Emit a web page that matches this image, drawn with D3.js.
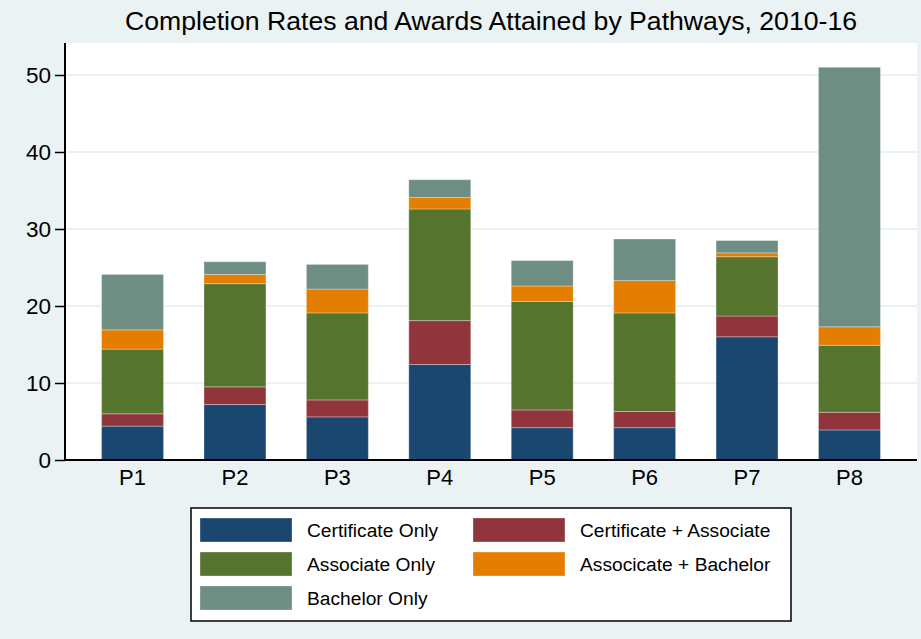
<!DOCTYPE html>
<html><head><meta charset="utf-8">
<script src="https://cdn.jsdelivr.net/npm/d3@7"></script>
<style>html,body{margin:0;padding:0;background:#EAF2F3;} svg{display:block;font-family:"Liberation Sans",Arial,sans-serif;}</style>
</head><body>
<svg id="chart" width="921" height="639"></svg>
<script>
const categories = ["P1","P2","P3","P4","P5","P6","P7","P8"];
const seriesNames = ["Certificate Only","Certificate + Associate","Associate Only","Associcate + Bachelor","Bachelor Only"];
const certOnly   = [4.4, 7.2, 5.6, 12.4, 4.2, 4.2, 16.0, 3.9];
const certAssoc  = [1.6, 2.3, 2.2, 5.7, 2.3, 2.1, 2.7, 2.3];
const assocOnly  = [8.4, 13.4, 11.3, 14.5, 14.1, 12.8, 7.7, 8.7];
const assocBach  = [2.5, 1.2, 3.1, 1.5, 2.0, 4.2, 0.5, 2.4];
const bachOnly   = [7.2, 1.65, 3.2, 2.3, 3.3, 5.4, 1.6, 33.7];
const yTicks = [0, 10, 20, 30, 40, 50];
const colors = ["#1a476f","#90353b","#55752f","#e37e00","#6e8e84"];
const title = "Completion Rates and Awards Attained by Pathways, 2010-16";

const seriesValues = [certOnly, certAssoc, assocOnly, assocBach, bachOnly];
const rows = categories.map((c, i) => {
  const r = {cat: c};
  seriesNames.forEach((s, j) => r[s] = seriesValues[j][i]);
  return r;
});

const svg = d3.select("#chart");
const pLeft = 65, pRight = 917, pTop = 43, pBottom = 460;

svg.append("rect").attr("width", 921).attr("height", 639).attr("fill", "#EAF2F3");
svg.append("rect").attr("x", pLeft).attr("y", pTop).attr("width", pRight - pLeft).attr("height", pBottom - pTop).attr("fill", "#ffffff");

const x = d3.scaleBand().domain(categories).range([pLeft, pRight]).paddingInner(0.395).paddingOuter(0.357);
const y = d3.scaleLinear().domain([0, 50]).range([pBottom, 75]);

// gridlines
svg.append("g").selectAll("line").data(yTicks.filter(t => t > 0)).join("line")
  .attr("x1", pLeft).attr("x2", pRight)
  .attr("y1", d => y(d)).attr("y2", d => y(d))
  .attr("stroke", "#EAF2F3").attr("stroke-width", 2);

const stack = d3.stack().keys(seriesNames)(rows);
svg.append("g").selectAll("g").data(stack).join("g")
  .attr("fill", (d, i) => colors[i])
  .selectAll("rect").data(d => d).join("rect")
  .attr("x", d => x(d.data.cat))
  .attr("width", x.bandwidth())
  .attr("y", d => y(d[1]))
  .attr("height", d => y(d[0]) - y(d[1]))
  .attr("stroke", "rgba(255,255,255,0.3)").attr("stroke-width", 1);

// y axis
const yAxis = svg.append("g").attr("transform", `translate(${pLeft},0)`)
  .call(d3.axisLeft(y).tickValues(yTicks).tickSize(10).tickPadding(4).tickSizeOuter(0));
yAxis.select(".domain").attr("d", `M0,${pTop}V${pBottom}`).attr("stroke", "#000").attr("stroke-width", 2);
yAxis.selectAll(".tick line").attr("stroke", "#000").attr("stroke-width", 1.5);
yAxis.selectAll(".tick text").attr("font-size", 22.5).attr("fill", "#000").attr("font-family", "Liberation Sans, Arial, sans-serif");

// x axis
const xAxis = svg.append("g").attr("transform", `translate(0,${pBottom})`)
  .call(d3.axisBottom(x).tickSize(0).tickPadding(9).tickSizeOuter(0));
xAxis.select(".domain").attr("d", `M${pLeft},0H${pRight}`).attr("stroke", "#000").attr("stroke-width", 2);
xAxis.selectAll(".tick text").attr("font-size", 22).attr("fill", "#000").attr("font-family", "Liberation Sans, Arial, sans-serif");

// title
svg.append("text").attr("x", (pLeft + pRight) / 2).attr("y", 30)
  .attr("text-anchor", "middle").attr("font-size", 25)
  .attr("textLength", 732).attr("lengthAdjust", "spacingAndGlyphs")
  .attr("fill", "#000").text(title);

// legend
const lg = svg.append("g");
lg.append("rect").attr("x", 191).attr("y", 508).attr("width", 600).attr("height", 113)
  .attr("fill", "#fff").attr("stroke", "#000").attr("stroke-width", 1.5);
const legendPos = [[200, 518], [473, 518], [200, 552], [473, 552], [200, 586]];
seriesNames.forEach((s, i) => {
  const [lx, ly] = legendPos[i];
  lg.append("rect").attr("x", lx).attr("y", ly).attr("width", 92).attr("height", 24)
    .attr("fill", colors[i]).attr("stroke", "rgba(255,255,255,0.3)");
  lg.append("text").attr("x", lx + 107).attr("y", ly + 12).attr("dy", "0.35em")
    .attr("font-size", 19.2).attr("fill", "#000").text(s);
});
</script>
</body></html>
